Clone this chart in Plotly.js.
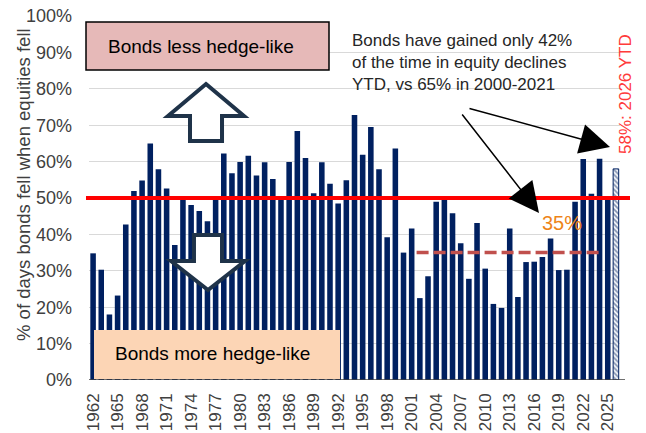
<!DOCTYPE html>
<html>
<head>
<meta charset="utf-8">
<script src="https://cdn.plot.ly/plotly-3.0.1.min.js"></script>
<style>html,body{margin:0;padding:0;background:#fff;}#chart{width:646px;height:433px;}</style>
</head>
<body>
<div id="chart"></div>
<script>
// ---- data ----
const years = [];
for (let y = 1962; y <= 2025; y++) years.push(y);
const pctBondsFell = [
  34.8, 30.3, 18.0, 23.2, 42.7, 51.9, 54.8, 65.0, 57.9, 52.6,   // 1962-1971
  37.1, 49.5, 48.1, 46.4, 43.6, 50.0, 62.2, 56.8, 59.9, 61.6,   // 1972-1981
  56.2, 59.8, 55.2, 49.8, 59.9, 68.4, 61.0, 51.3, 59.8, 53.9,   // 1982-1991
  48.5, 54.9, 72.8, 61.9, 69.5, 57.9, 39.2, 63.6, 35.0, 41.6,   // 1992-2001
  22.5, 28.5, 49.0, 49.7, 45.8, 37.6, 27.8, 43.1, 30.6, 20.9,   // 2002-2011
  19.8, 41.6, 22.8, 32.4, 32.5, 33.8, 38.9, 30.2, 30.3, 49.0,   // 2012-2021
  60.7, 51.2, 60.8, 50.0                                        // 2022-2025
];
const ytdYear = [2026];
const ytdValue = [58.0];
const threshold = 50;
const recentAvg = 35;
const recentAvgStart = 2001.6, recentAvgEnd = 2024.1;
const yTickVals = [0,10,20,30,40,50,60,70,80,90,100];

// ---- pixel helpers for annotation placement ----
const L = 89, R = 620, T = 16, B = 380;
const px = p => (p - L) / (R - L);
const py = p => (B - p) / (B - T);
function path(pts) {
  return 'M' + pts.map(p => px(p[0]).toFixed(4) + ',' + py(p[1]).toFixed(4)).join(' L') + ' Z';
}

const navy = '#002060';
const font = 'Liberation Sans, Arial, sans-serif';

const traces = [
  {
    type: 'bar', x: years, y: pctBondsFell,
    marker: { color: navy, line: { width: 0 } },
    hoverinfo: 'x+y'
  },
  {
    type: 'bar', x: ytdYear, y: ytdValue,
    marker: {
      color: '#ffffff',
      line: { color: navy, width: 1 },
      pattern: { shape: '\\', fgcolor: navy, bgcolor: '#ffffff', size: 3.5, solidity: 0.5, fillmode: 'overlay' }
    },
    hoverinfo: 'x+y'
  }
];

const upArrow = [[206,84],[244,116],[222,116],[222,141],[190,141],[190,116],[168,116]];
const downArrow = [[194,235],[222,235],[222,261],[245,261],[208,290],[171,261],[194,261]];

const shapes = [
  // pink box
  { type: 'rect', xref: 'paper', yref: 'paper', x0: px(86), x1: px(329), y0: py(22), y1: py(70),
    fillcolor: '#E6B9B8', line: { color: '#000000', width: 1.5 }, layer: 'above' },
  // peach box
  { type: 'rect', xref: 'paper', yref: 'paper', x0: px(94), x1: px(340), y0: py(330), y1: py(379),
    fillcolor: '#FCD5B5', line: { width: 0 }, layer: 'above' },
  // arrows
  { type: 'path', xref: 'paper', yref: 'paper', path: path(upArrow),
    fillcolor: '#ffffff', line: { color: '#1F3349', width: 4 }, layer: 'above' },
  { type: 'path', xref: 'paper', yref: 'paper', path: path(downArrow),
    fillcolor: '#ffffff', line: { color: '#1F3349', width: 4 }, layer: 'above' },
  // threshold
  { type: 'line', xref: 'paper', yref: 'y', x0: px(86), x1: px(630), y0: threshold, y1: threshold,
    line: { color: '#FF0000', width: 4 }, layer: 'above' },
  // recent average dashed
  { type: 'line', xref: 'x', yref: 'y', x0: recentAvgStart, x1: recentAvgEnd, y0: recentAvg, y1: recentAvg,
    line: { color: '#C0504D', width: 3.5, dash: '12px,5px' }, layer: 'above' },
  // bottom axis line
  { type: 'line', xref: 'paper', yref: 'y', x0: px(89), x1: px(625), y0: 0, y1: 0,
    line: { color: '#404040', width: 1.5 }, layer: 'above' }
];

const annotations = [
  { xref: 'paper', yref: 'paper', x: px(23), y: py(185), text: '% of days bonds fell when equities fell',
    textangle: -90, showarrow: false, xanchor: 'center', yanchor: 'middle',
    font: { family: font, size: 18.5, color: '#404040' } },
  { xref: 'paper', yref: 'paper', x: px(106), y: py(46), text: 'Bonds less hedge-like',
    showarrow: false, xanchor: 'left', yanchor: 'middle',
    font: { family: font, size: 19, color: '#000000' } },
  { xref: 'paper', yref: 'paper', x: px(113), y: py(353), text: 'Bonds more hedge-like',
    showarrow: false, xanchor: 'left', yanchor: 'middle',
    font: { family: font, size: 19, color: '#000000' } },
  { xref: 'paper', yref: 'paper', x: px(350), y: py(62), align: 'left',
    text: 'Bonds have gained only 42%<br>of the time in equity declines<br>YTD, vs 65% in 2000-2021',
    showarrow: false, xanchor: 'left', yanchor: 'middle',
    font: { family: font, size: 17, color: '#262626' } },
  { xref: 'paper', yref: 'paper', x: px(562), y: py(223), text: '35%',
    showarrow: false, xanchor: 'center', yanchor: 'middle',
    font: { family: font, size: 20, color: '#EE8418' } },
  { xref: 'paper', yref: 'paper', x: px(625), y: py(94), text: '58%: 2026 YTD',
    textangle: -90, showarrow: false, xanchor: 'center', yanchor: 'middle',
    font: { family: font, size: 17, color: '#FF3B3B' } },
  { xref: 'paper', yref: 'paper', x: px(610), y: py(147), ax: -142, ay: -39, text: '',
    showarrow: true, arrowhead: 2, arrowsize: 4, arrowwidth: 1.5, arrowcolor: '#000000' },
  { xref: 'paper', yref: 'paper', x: px(539), y: py(213), ax: -78, ay: -100, text: '',
    showarrow: true, arrowhead: 2, arrowsize: 4, arrowwidth: 1.5, arrowcolor: '#000000' }
];

const layout = {
  width: 646, height: 433,
  margin: { l: L, r: 646 - R, t: T, b: 433 - B, pad: 0 },
  paper_bgcolor: '#ffffff', plot_bgcolor: '#ffffff',
  showlegend: false,
  barmode: 'overlay',
  bargap: 0.32,
  font: { family: font, color: '#404040' },
  xaxis: {
    range: [1961.5, 2026.5], tick0: 1962, dtick: 3, tickmode: 'linear',
    tickangle: -90, tickfont: { size: 17, color: '#404040', family: font },
    showgrid: false, zeroline: false, showline: false, ticks: '',
    automargin: false, ticklabelstandoff: 9
  },
  yaxis: {
    range: [0, 100], tickvals: yTickVals, ticktext: yTickVals.map(v => v + '%'),
    tickfont: { size: 18, color: '#404040', family: font },
    showgrid: true, gridcolor: '#D9D9D9', gridwidth: 1,
    zeroline: false, showline: false, ticks: '', automargin: false,
    ticklabelstandoff: 16
  },
  shapes: shapes,
  annotations: annotations
};

Plotly.newPlot('chart', traces, layout, { staticPlot: true, displayModeBar: false });
</script>
</body>
</html>
